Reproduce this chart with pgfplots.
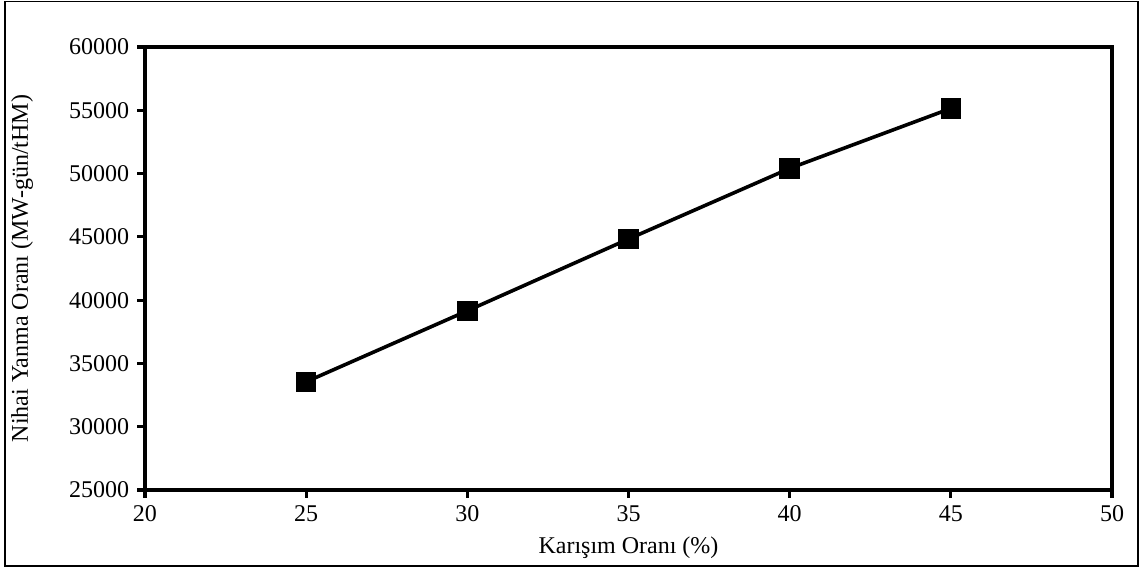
\documentclass[border=0pt]{standalone}
\usepackage{fontspec}
\setmainfont{Liberation Serif}
\usepackage{pgfplots}
\pgfplotsset{compat=1.18}
\begin{document}
\begin{tikzpicture}
\fontsize{12}{14}\selectfont
\path[use as bounding box] (0,0) rectangle (572pt,285pt);
\draw[line width=0.7pt] (2.5pt,2pt) rectangle (569pt,284.3pt);
\begin{axis}[
  at={(72.5pt,40pt)}, anchor=south west,
  scale only axis, width=483.5pt, height=221.5pt,
  separate axis lines,
  axis line style={line width=1.6pt, line cap=rect},
  every outer x axis line/.append style={line width=1.6pt},
  every outer y axis line/.append style={line width=1.6pt},
  xmin=20, xmax=50, ymin=25000, ymax=60000,
  xtick={20,25,...,50}, ytick={25000,30000,...,60000},
  scaled ticks=false,
  tick style={line width=1.6pt, black},
  tick align=outside, major tick length=3.8pt,
  xtick pos=bottom, ytick pos=left,
  /pgf/number format/1000 sep={},
  /pgf/number format/assume math mode=true,
  tick label style={font=\fontsize{12}{14}\selectfont},
  label style={font=\fontsize{12}{14}\selectfont},
  xlabel={Karışım Oranı (\%)},
  ylabel={Nihai Yanma Oranı (MW-gün/tHM)},
  xlabel style={at={(axis description cs:0.5,-0.131)}, anchor=center},
  ylabel style={at={(axis description cs:-0.127,0.5)}, anchor=center},
]
\addplot[black, line width=1.8pt, mark=square*, mark size=4.2pt, mark options={solid, fill=black}]
coordinates {(25,33550) (30,39160) (35,44830) (40,50410) (45,55150)};
\end{axis}
\end{tikzpicture}
\end{document}
